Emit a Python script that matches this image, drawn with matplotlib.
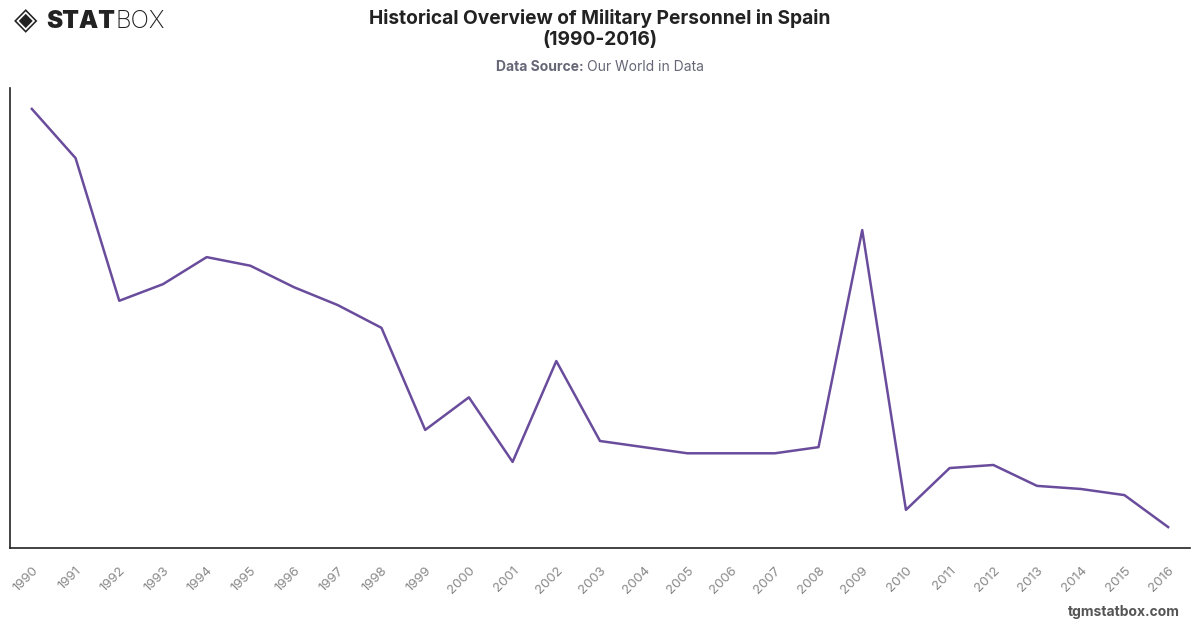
import matplotlib
matplotlib.use("Agg")
import matplotlib.pyplot as plt

plt.rcParams['font.family'] = ['Inter', 'DejaVu Sans']

# military personnel, Spain
years = list(range(1990, 2017))
personnel = [263000, 255000, 231800, 234500, 238900, 237500, 234000, 231100, 227400,
             210800, 216100, 205600, 222000, 209000, 208000, 207000, 207000, 207000,
             208000, 243300, 197800, 204600, 205100, 201700, 201200, 200200, 195000]
title = "Historical Overview of Military Personnel in Spain\n(1990-2016)"

fig = plt.figure(figsize=(12, 6.28), dpi=100)
ax = fig.add_axes([10/1200, 80/628, 1180/1200, 460/628])

ax.plot(years, personnel, color='#6a4c9c', linewidth=1.8)

ax.set_xlim(1989.5, 2016.5)
ax.set_ylim(191600, 266400)
ax.set_yticks([])
ax.set_xticks(years)
ax.set_xticklabels([str(y) for y in years], rotation=45, ha='right', va='top',
                   rotation_mode='anchor', fontsize=9.5, color='#888888')
ax.tick_params(axis='x', length=0, pad=12)
for s in ['top', 'right']:
    ax.spines[s].set_visible(False)
for s in ['left', 'bottom']:
    ax.spines[s].set_color('#222222')
    ax.spines[s].set_linewidth(1.2)

# header
fig.text(0.5, 1 - 29/628, title, ha='center', va='center', fontsize=13.8,
         fontweight='bold', color='#222222', linespacing=1.25)

renderer = fig.canvas.get_renderer()
y_sub = 1 - 67/628
a = fig.text(0, y_sub, "Data Source: ", ha='left', va='center', fontsize=10,
             fontweight='bold', color='#666677')
b = fig.text(0, y_sub, "Our World in Data", ha='left', va='center', fontsize=10,
             color='#666677')
wa = a.get_window_extent(renderer).width / 1200
wb = b.get_window_extent(renderer).width / 1200
x0 = 0.5 - (wa + wb) / 2
a.set_x(x0)
b.set_x(x0 + wa)

# logo
fig.text(14/1200, 1 - 21/628, "\u25C8", ha='left', va='center', fontsize=22,
         color='#222222', family=['DejaVu Sans'])
s1 = fig.text(46/1200, 1 - 21/628, "STAT", ha='left', va='center', fontsize=17.5,
              fontweight='black', color='#222222')
w1 = s1.get_window_extent(renderer).width / 1200
fig.text(46/1200 + w1 + 1/1200, 1 - 21/628, "BOX", ha='left', va='center', fontsize=17.5,
         fontweight='light', color='#222222')

# footer
fig.text(1180/1200, 1 - 612/628, "tgmstatbox.com", ha='right', va='center',
         fontsize=10, fontweight='bold', color='#555555')

fig.savefig("out.png", dpi=100)
